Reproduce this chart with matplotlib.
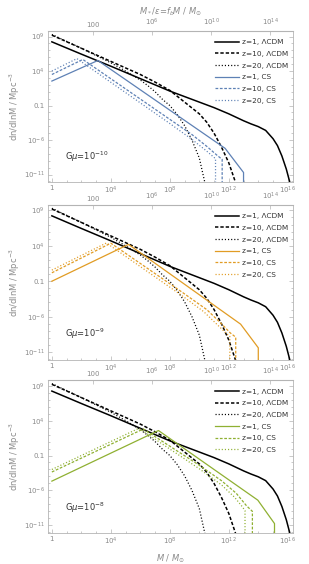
import numpy as np
import matplotlib
matplotlib.use("Agg")
import matplotlib.pyplot as plt

# log10(M / Msun) and log10(dn/dlnM / Mpc^-3)
lcdm_z1_x = [0, 2, 4, 6, 8, 10, 11, 12, 13, 13.5, 14, 14.5, 15, 15.3, 15.6, 15.9, 16.1, 16.3]
lcdm_z1_y = [8.23, 6.45, 4.7, 2.9, 1.1, -0.5, -1.3, -2.2, -3.2, -3.65, -4.05, -4.6, -5.8, -6.8, -8.3, -10.2, -11.8, -13.5]
lcdm_z10_x = [0, 2, 4, 6, 7, 8, 9, 10, 10.5, 11, 11.5, 12, 12.45, 12.6]
lcdm_z10_y = [9.2, 7.3, 5.4, 3.5, 2.4, 1.2, -0.5, -2.2, -3.4, -5.0, -7.0, -9.3, -12.1, -13.5]
lcdm_z20_x = [0, 2, 4, 5, 6, 6.5, 7, 7.5, 8, 8.5, 9, 9.5, 10, 10.37, 10.5]
lcdm_z20_y = [9.3, 7.3, 5.2, 4.0, 2.7, 1.9, 1.0, -0.1, -1.0, -2.3, -3.9, -6.0, -8.6, -12.1, -13.5]

# cosmic string seeded halos, one set per G mu
cs_gmu = ["10$^{-10}$", "10$^{-9}$", "10$^{-8}$"]
cs_z1_x = [[0, 3.12, 11.75, 13.0, 13.0],
           [0, 5.2, 12.8, 14.0, 14.0],
           [0, 7.23, 13.97, 15.1, 15.1]]
cs_z1_y = [[2.55, 5.53, -7.2, -10.7, -14],
           [-1.0, 4.2, -7.06, -10.4, -14],
           [-4.67, 2.58, -7.4, -10.75, -14]]
cs_z10_x = [[0, 2.1, 8, 9.5, 10.5, 11.2, 11.55, 11.55],
            [0, 4.0, 8.8, 10.5, 11.5, 12.1, 12.47, 12.47],
            [0, 6.2, 10, 11.5, 12.5, 13.2, 13.6, 13.6]]
cs_z10_y = [[3.5, 5.68, -3.0, -5.2, -6.9, -8.2, -8.8, -14],
            [0.19, 4.37, -2.5, -5.0, -7.0, -8.3, -8.9, -14],
            [-3.36, 2.8, -2.4, -4.6, -6.4, -8.2, -9.0, -14]]
cs_z20_x = [[0, 1.7, 8, 9.5, 10.5, 11.1, 11.1],
            [0, 3.7, 8.8, 10.3, 11.3, 11.8, 12.07, 12.07],
            [0, 5.9, 10, 11.5, 12.4, 12.9, 13.1, 13.1]]
cs_z20_y = [[4.0, 5.8, -3.6, -5.9, -7.6, -8.7, -14],
            [0.57, 4.4, -3.0, -5.3, -7.3, -8.3, -8.8, -14],
            [-3.0, 2.9, -2.9, -5.2, -7.0, -8.3, -8.9, -14]]
cs_colors = ["#5E81B5", "#E19C24", "#8FB032"]

x_ticks = [1, 1e4, 1e8, 1e12, 1e16]
x_ticklabels = ["1", "$10^{4}$", "$10^{8}$", "$10^{12}$", "$10^{16}$"]
top_ticks = [100, 1e6, 1e10, 1e14]
top_ticklabels = ["100", "$10^{6}$", "$10^{10}$", "$10^{14}$"]
y_ticks = [1e9, 1e4, 0.1, 1e-6, 1e-11]
y_ticklabels = ["$10^{9}$", "$10^{4}$", "0.1", "$10^{-6}$", "$10^{-11}$"]
fb = 0.157

gray = "#8a8a8a"
framec = "#b4b4b4"
plt.rcParams["font.family"] = "DejaVu Sans"
plt.rcParams["mathtext.fontset"] = "dejavusans"

fig = plt.figure(figsize=(3.09, 5.64), dpi=100)
boxes = [[0.155, 0.677, 0.793, 0.268],
         [0.155, 0.362, 0.793, 0.275],
         [0.155, 0.055, 0.793, 0.271]]

for i in range(3):
    ax = fig.add_axes(boxes[i])
    col = cs_colors[i]
    ax.plot(10**np.array(lcdm_z1_x), 10**np.array(lcdm_z1_y), color="k", lw=1.1, label="z=1, \u039bCDM")
    ax.plot(10**np.array(lcdm_z10_x), 10**np.array(lcdm_z10_y), color="k", lw=1.1, ls=(0, (2.2, 1.3)), label="z=10, \u039bCDM")
    ax.plot(10**np.array(lcdm_z20_x), 10**np.array(lcdm_z20_y), color="k", lw=0.9, ls=(0, (0.9, 1.6)), label="z=20, \u039bCDM")
    ax.plot(10**np.array(cs_z1_x[i]), 10**np.array(cs_z1_y[i]), color=col, lw=0.9, label="z=1, CS")
    ax.plot(10**np.array(cs_z10_x[i]), 10**np.array(cs_z10_y[i]), color=col, lw=0.9, ls=(0, (2.2, 1.3)), label="z=10, CS")
    ax.plot(10**np.array(cs_z20_x[i]), 10**np.array(cs_z20_y[i]), color=col, lw=0.9, ls=(0, (0.9, 1.6)), label="z=20, CS")

    ax.set_xscale("log")
    ax.set_yscale("log")
    ax.set_xlim(10**-0.27, 10**16.35)
    ax.set_ylim(10**-12.1, 10**9.8)

    ax.set_xticks(x_ticks)
    ax.set_xticklabels(x_ticklabels)
    ax.set_yticks(y_ticks)
    ax.set_yticklabels(y_ticklabels)
    ax.xaxis.set_minor_locator(matplotlib.ticker.LogLocator(base=10, numticks=40))
    ax.yaxis.set_minor_locator(matplotlib.ticker.LogLocator(base=10, numticks=40))
    ax.xaxis.set_minor_formatter(matplotlib.ticker.NullFormatter())
    ax.yaxis.set_minor_formatter(matplotlib.ticker.NullFormatter())
    ax.tick_params(which="both", direction="in", colors=framec, labelcolor=gray,
                   labelsize=5, right=True, width=0.5, pad=2)
    ax.tick_params(which="major", length=3)
    ax.tick_params(which="minor", length=1.5)
    for s in ax.spines.values():
        s.set_color(framec)
        s.set_linewidth(0.6)

    top = ax.secondary_xaxis("top", functions=(lambda m: m * fb, lambda m: m / fb))
    top.set_xticks(top_ticks)
    top.set_xticklabels(top_ticklabels)
    top.xaxis.set_minor_locator(matplotlib.ticker.NullLocator())
    top.tick_params(direction="in", colors=framec, labelcolor=gray, labelsize=5, length=3, width=0.5, pad=2)
    top.spines["top"].set_color(framec)

    ax.set_ylabel("dn/dlnM / Mpc$^{-3}$", color=gray, fontsize=6, labelpad=2)
    ax.text(0.07, 0.165, "G$\\mu$=" + cs_gmu[i], transform=ax.transAxes,
            fontsize=6, color="#333333", va="center", ha="left")
    ax.legend(loc="upper right", bbox_to_anchor=(1.0, 0.975), frameon=False,
              fontsize=5.3, handlelength=3.2, handletextpad=0.5,
              labelspacing=0.75, borderaxespad=0.2, labelcolor="#333333")

    if i == 0:
        top.set_xlabel("$M_*/\\epsilon$=$f_bM$ / $M_{\\odot}$", color=gray, fontsize=6, labelpad=2)
    if i == 2:
        ax.set_xlabel("$M$ / $M_{\\odot}$", color=gray, fontsize=6, labelpad=4)

fig.savefig("out.png", dpi=100)
